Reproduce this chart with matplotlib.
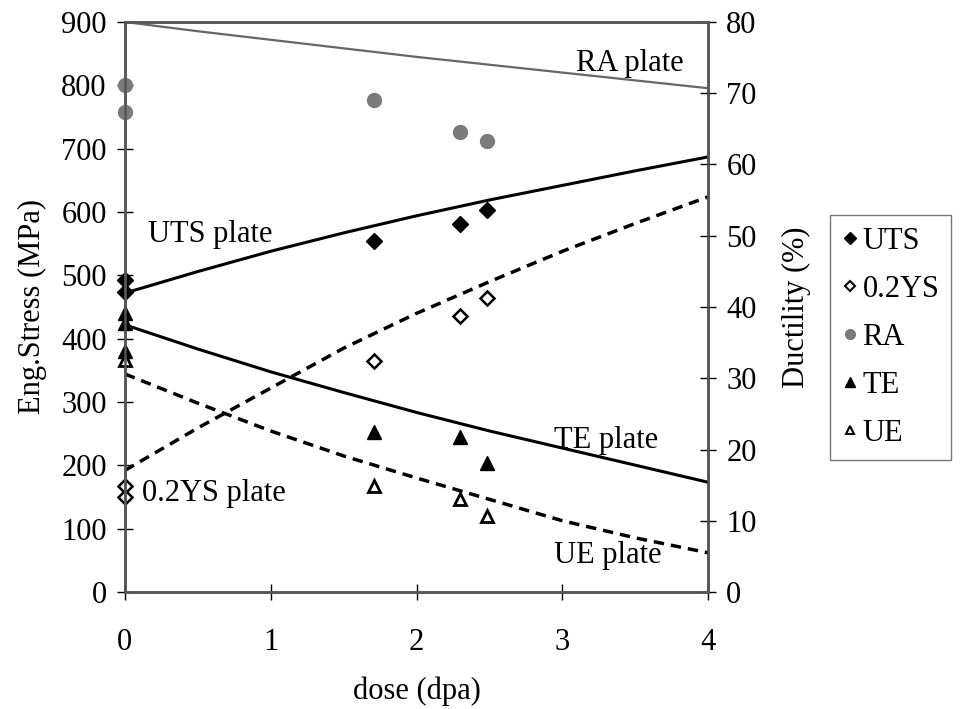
import matplotlib
matplotlib.use("Agg")
import matplotlib.pyplot as plt
from matplotlib.lines import Line2D

plt.rcParams['font.family'] = ['Liberation Serif', 'DejaVu Serif']

# data points (dose in dpa)
dose_uts = [0, 0, 1.71, 2.3, 2.48]
uts = [493, 473, 554, 581, 603]
dose_ys = [0, 0, 1.71, 2.3, 2.48]
ys = [168, 150, 365, 436, 464]
dose_ra = [0, 0, 1.71, 2.3, 2.48]
ra = [71.2, 67.4, 69.0, 64.6, 63.3]
dose_te = [0, 0, 0, 1.71, 2.3, 2.48]
te = [39.2, 37.8, 33.8, 22.5, 21.8, 18.1]
dose_ue = [0, 1.71, 2.3, 2.48]
ue = [32.6, 14.9, 13.0, 10.7]

# "plate" fit curves
dose_fit = [0, 0.5, 1, 1.5, 2, 2.5, 3, 3.5, 4]
uts_plate = [472, 506, 538, 567, 594, 619, 642, 665, 687]
ys_plate = [192, 259, 322, 385, 440, 490, 538, 582, 624]
te_plate = [37.5, 34.1, 30.9, 28.0, 25.2, 22.6, 20.2, 17.8, 15.4]
ue_plate = [30.6, 26.5, 22.6, 19.1, 16.0, 13.0, 10.0, 7.6, 5.5]
ra_plate = [80.0, 78.7, 77.5, 76.3, 75.1, 74.0, 72.9, 71.8, 70.7]

fs = 22
fig = plt.figure(figsize=(9.61, 7.09), dpi=100)
ax = fig.add_axes([0.130, 0.165, 0.607, 0.804])
ax2 = ax.twinx()

# curves
ax.plot(dose_fit, uts_plate, color='black', lw=2.2)
ax.plot(dose_fit, ys_plate, color='black', lw=2.5, linestyle=(0, (3, 2)))
ax2.plot(dose_fit, te_plate, color='black', lw=2.2)
ax2.plot(dose_fit, ue_plate, color='black', lw=2.5, linestyle=(0, (3, 2)))
ax2.plot(dose_fit, ra_plate, color='#666666', lw=1.6)

# markers
ax.plot(dose_uts, uts, 'D', color='black', ms=8, clip_on=False)
ax.plot(dose_ys, ys, 'D', mfc='white', mec='black', mew=1.8, ms=7, clip_on=False)
ax2.plot(dose_ra, ra, 'o', color='#7a7a7a', ms=10, clip_on=False)
ax2.plot(dose_te, te, '^', color='black', ms=10, clip_on=False)
ax2.plot(dose_ue, ue, '^', mfc='white', mec='black', mew=2, ms=9, clip_on=False)

ax.set_xlim(0, 4)
ax.set_ylim(0, 900)
ax2.set_ylim(0, 80)
ax.set_xticks([0, 1, 2, 3, 4])
ax.set_yticks(range(0, 901, 100))
ax2.set_yticks(range(0, 81, 10))

for a in (ax, ax2):
    for s in a.spines.values():
        s.set_color('#555555')
        s.set_linewidth(1.8)
    a.tick_params(direction='inout', length=12, width=1, labelsize=fs, pad=7)
ax.tick_params(axis='x', pad=20)

ax.set_xlabel('dose (dpa)', fontsize=fs, labelpad=14)
ax.set_ylabel('Eng.Stress (MPa)', fontsize=fs, labelpad=10)
ax2.set_ylabel('Ductility (%)', fontsize=fs, labelpad=18)

# curve labels
ax.text(3.09, 835, 'RA plate', fontsize=fs, va='center')
ax.text(0.16, 564, 'UTS plate', fontsize=fs, va='center')
ax.text(2.94, 240, 'TE plate', fontsize=fs, va='center')
ax.text(0.12, 155, '0.2YS plate', fontsize=fs, va='center')
ax.text(2.94, 58, 'UE plate', fontsize=fs, va='center')

handles = [
    Line2D([], [], marker='D', ls='none', color='black', ms=6),
    Line2D([], [], marker='D', ls='none', mfc='white', mec='black', mew=1.5, ms=5),
    Line2D([], [], marker='o', ls='none', color='#7a7a7a', ms=7),
    Line2D([], [], marker='^', ls='none', color='black', ms=7),
    Line2D([], [], marker='^', ls='none', mfc='white', mec='black', mew=1.5, ms=6),
]
labels = ['UTS', '0.2YS', 'RA', 'TE', 'UE']
leg = fig.legend(handles, labels, loc='upper left', bbox_to_anchor=(0.864, 0.697),
                 fontsize=fs, frameon=True, fancybox=False, edgecolor='#555555',
                 handlelength=0.5, handletextpad=0.15, labelspacing=0.62,
                 borderpad=0.4, borderaxespad=0)
leg.get_frame().set_linewidth(1.0)

fig.savefig('out.png', dpi=100)
